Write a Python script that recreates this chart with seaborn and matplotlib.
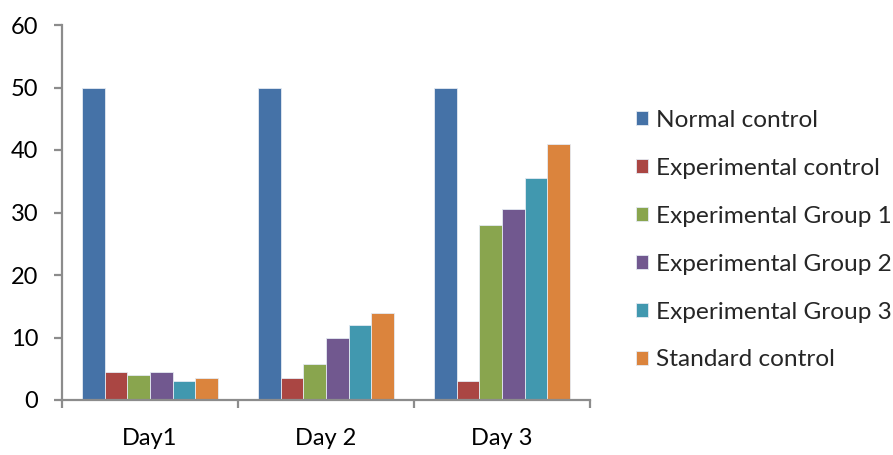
import matplotlib
matplotlib.use("Agg")
import matplotlib.pyplot as plt
import seaborn as sns
import pandas as pd
from matplotlib.ticker import FixedLocator

days = ["Day1", "Day 2", "Day 3"]
groups = ["Normal control", "Experimental control", "Experimental Group 1",
          "Experimental Group 2", "Experimental Group 3", "Standard control"]
normal_control = [50, 50, 50]
experimental_control = [4.5, 3.5, 3.0]
experimental_group1 = [4.0, 5.8, 28.0]
experimental_group2 = [4.5, 10.0, 30.5]
experimental_group3 = [3.0, 12.0, 35.6]
standard_control = [3.5, 14.0, 41.0]
series = [normal_control, experimental_control, experimental_group1,
          experimental_group2, experimental_group3, standard_control]
colors = ["#4572A7", "#AA4643", "#89A54E", "#71588F", "#4198AF", "#DB843D"]
yticks = [0, 10, 20, 30, 40, 50, 60]

rows = []
for g, vals in zip(groups, series):
    for d, v in zip(days, vals):
        rows.append({"day": d, "group": g, "value": v})
df = pd.DataFrame(rows)

sns.set_theme(style="white")
plt.rcParams["font.family"] = ["Lato", "DejaVu Sans"]

fig = plt.figure(figsize=(8.93, 4.55), dpi=100)
ax = fig.add_axes([62/893, 55/455, (590-62)/893, 375/455])

sns.barplot(data=df, x="day", y="value", hue="group", order=days, hue_order=groups,
            palette=colors, saturation=1, width=0.77, gap=0, ax=ax, edgecolor="#e4eaf2",
            linewidth=0.6, errorbar=None, legend=True)

ax.set_xlim(-0.5, 2.5)
ax.set_ylim(0, 60)
ax.set_yticks(yticks)
ax.set_xlabel("")
ax.set_ylabel("")

spine_color = "#8c8c8c"
for s in ["top", "right"]:
    ax.spines[s].set_visible(False)
for s in ["left", "bottom"]:
    ax.spines[s].set_color(spine_color)
    ax.spines[s].set_linewidth(1.6)

ax.tick_params(axis="y", which="major", length=6, width=1.6, color=spine_color,
               direction="out", labelsize=17, pad=11, labelcolor="black", left=True)
ax.tick_params(axis="x", which="major", length=0, labelsize=17, pad=20, labelcolor="black")
ax.xaxis.set_minor_locator(FixedLocator([-0.5, 0.5, 1.5, 2.5]))
ax.tick_params(axis="x", which="minor", length=6, width=1.6, color=spine_color,
               direction="out", bottom=True)

handles, labels = ax.get_legend_handles_labels()
ax.legend(handles, labels, loc="upper left", bbox_to_anchor=(636/893, 1 - 110/455),
          bbox_transform=fig.transFigure, frameon=False, fontsize=17.6,
          handlelength=0.5, handleheight=0.5, handletextpad=0.3, labelspacing=1.1,
          borderpad=0, borderaxespad=0)

fig.savefig("out.png", dpi=100)
